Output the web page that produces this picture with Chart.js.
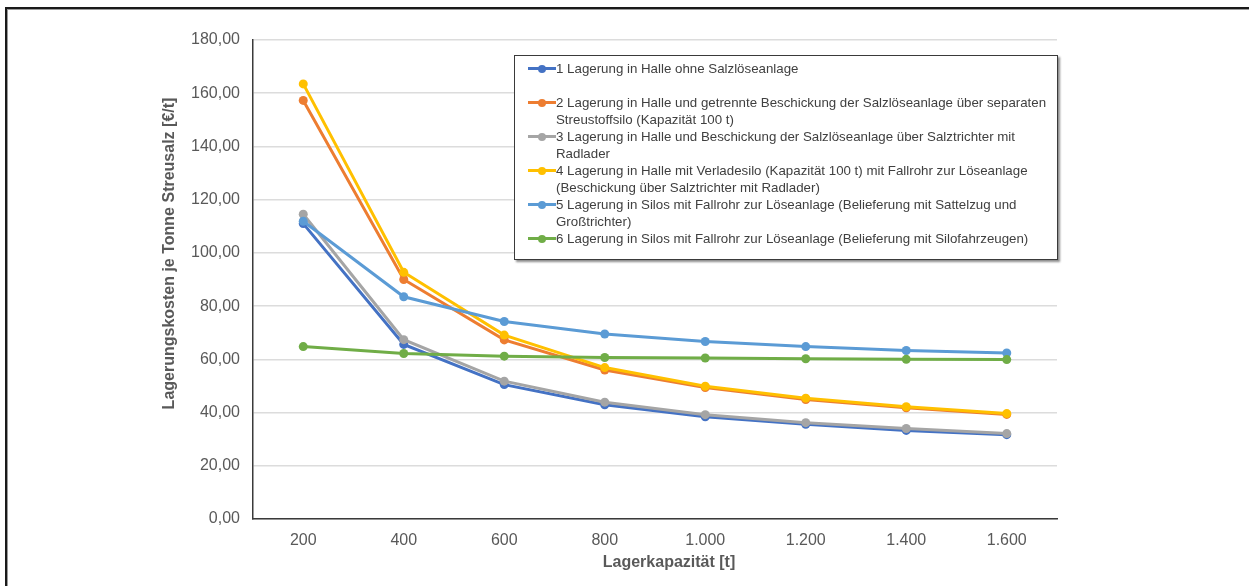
<!DOCTYPE html>
<html>
<head>
<meta charset="utf-8">
<script src="https://cdn.jsdelivr.net/npm/chart.js@4/dist/chart.umd.min.js"></script>
<style>
	html, body { margin: 0; padding: 0; background: #fff; }
	#wrap { position: relative; width: 1249px; height: 586px; overflow: hidden; }
	#chart { position: absolute; left: 0; top: 0; }
	#frame {
		position: absolute; left: 5px; top: 7px; width: 1260px; height: 600px;
		border-top: 2px solid #1a1a1a; border-left: 2px solid #1a1a1a;
		box-shadow: inset 1px 1px 0 #9a9a9a; pointer-events: none;
	}
	#legend {
		position: absolute; left: 514px; top: 55px; width: 544px; height: 205px;
		border: 1px solid #3a3a3a; background: #fff;
		box-shadow: 2px 2px 2px rgba(0, 0, 0, 0.45);
		font-family: "Liberation Sans", Arial, sans-serif; font-size: 13.3px;
		color: #404040; line-height: 17px; padding-top: 4px; box-sizing: border-box;
	}
	.entry { position: relative; padding-left: 41px; }
	.entry .mk { position: absolute; left: 13px; top: 7px; width: 28px; height: 3px; }
	.entry .dot { position: absolute; left: 10px; top: -2.5px; width: 8px; height: 8px; border-radius: 50%; }
</style>
</head>
<body>
<div id="wrap">
	<canvas id="chart" width="1249" height="586"></canvas>
	<div id="frame"></div>
	<div id="legend"></div>
</div>
<script>
(function() {
	"use strict";

	var categories = ["200", "400", "600", "800", "1.000", "1.200", "1.400", "1.600"];

	var series1 = [111.0, 65.6, 50.5, 42.9, 38.4, 35.6, 33.3, 31.7];
	var series2 = [157.3, 90.0, 67.3, 56.0, 49.4, 44.9, 41.8, 39.3];
	var series3 = [114.5, 67.4, 51.8, 43.9, 39.2, 36.2, 34.0, 32.1];
	var series4 = [163.5, 92.7, 69.1, 56.9, 49.9, 45.4, 42.2, 39.6];
	var series5 = [111.9, 83.5, 74.2, 69.5, 66.7, 64.8, 63.3, 62.4];
	var series6 = [64.8, 62.2, 61.2, 60.7, 60.5, 60.2, 60.0, 59.9];

	// legend text, already broken into the lines of the original
	var legendLabels = [
		["1 Lagerung in Halle ohne Salzlöseanlage", ""],
		["2 Lagerung in Halle und getrennte Beschickung der Salzlöseanlage über separaten", "Streustoffsilo (Kapazität 100 t)"],
		["3 Lagerung in Halle und Beschickung der Salzlöseanlage über Salztrichter mit", "Radlader"],
		["4 Lagerung in Halle mit Verladesilo (Kapazität 100 t) mit Fallrohr zur Löseanlage", "(Beschickung über Salztrichter mit Radlader)"],
		["5 Lagerung in Silos mit Fallrohr zur Löseanlage (Belieferung mit Sattelzug und", "Großtrichter)"],
		["6 Lagerung in Silos mit Fallrohr zur Löseanlage (Belieferung mit Silofahrzeugen)"]
	];

	var yTitle = "Lagerungskosten je Tonne Streusalz [€/t]";
	var xTitle = "Lagerkapazität [t]";

	var colors = ["#4472C4", "#ED7D31", "#A5A5A5", "#FFC000", "#5B9BD5", "#70AD47"];
	var allSeries = [series1, series2, series3, series4, series5, series6];

	var datasets = [];
	for (var i = 0; i < allSeries.length; i++) {
		datasets.push({
			label: legendLabels[i].join(" "),
			data: allSeries[i],
			borderColor: colors[i],
			backgroundColor: colors[i],
			pointBackgroundColor: colors[i],
			pointBorderColor: colors[i],
			borderWidth: 3,
			pointRadius: 4.5,
			pointBorderWidth: 0,
			tension: 0,
			order: allSeries.length - i
		});
	}

	// axis titles sit off-centre in the original, so they are drawn here
	var axisTitles = {
		id: "axisTitles",
		afterDraw: function(chart) {
			var ctx = chart.ctx;
			var area = chart.chartArea;
			ctx.save();
			ctx.font = "bold 16px 'Liberation Sans', Arial, sans-serif";
			ctx.fillStyle = "#595959";
			ctx.textAlign = "center";
			ctx.textBaseline = "middle";
			ctx.fillText(xTitle, (area.left + area.right) / 2 + 14, 563);
			ctx.translate(170, (area.top + area.bottom) / 2 - 26);
			ctx.rotate(-Math.PI / 2);
			ctx.fillText(yTitle, 0, 0);
			ctx.restore();
		}
	};

	Chart.defaults.font.family = "'Liberation Sans', Arial, sans-serif";
	Chart.defaults.color = "#595959";

	new Chart(document.getElementById("chart").getContext("2d"), {
		type: "line",
		data: { labels: categories, datasets: datasets },
		plugins: [axisTitles],
		options: {
			responsive: false,
			animation: false,
			devicePixelRatio: 1,
			layout: { padding: { left: 0, top: 40, right: 192, bottom: 0 } },
			plugins: { legend: { display: false }, tooltip: { enabled: false } },
			scales: {
				x: {
					offset: true,
					grid: { display: false, drawTicks: false },
					border: { display: true, color: "#3a3a3a", width: 1.5 },
					ticks: { font: { size: 16 }, padding: 12.4, color: "#595959" },
					afterFit: function(s) { s.height = 67; }
				},
				y: {
					min: 0,
					max: 180,
					grid: { color: "#dcdcdc", lineWidth: 1.5, drawTicks: false },
					border: { display: true, color: "#3a3a3a", width: 1.5 },
					ticks: {
						stepSize: 20,
						font: { size: 16 },
						padding: 13,
						color: "#595959",
						callback: function(v) { return v.toFixed(2).replace(".", ","); }
					},
					afterFit: function(s) { s.width = 253; }
				}
			}
		}
	});

	// legend box drawn as html on top of the plot
	var legend = document.getElementById("legend");
	for (var k = 0; k < legendLabels.length; k++) {
		var entry = document.createElement("div");
		entry.className = "entry";
		var mk = document.createElement("div");
		mk.className = "mk";
		mk.style.background = colors[k];
		var dot = document.createElement("div");
		dot.className = "dot";
		dot.style.background = colors[k];
		mk.appendChild(dot);
		entry.appendChild(mk);
		for (var j = 0; j < legendLabels[k].length; j++) {
			var line = document.createElement("div");
			line.textContent = legendLabels[k][j];
			line.style.height = "17px";
			line.style.whiteSpace = "nowrap";
			entry.appendChild(line);
		}
		legend.appendChild(entry);
	}
})();
</script>
</body>
</html>
